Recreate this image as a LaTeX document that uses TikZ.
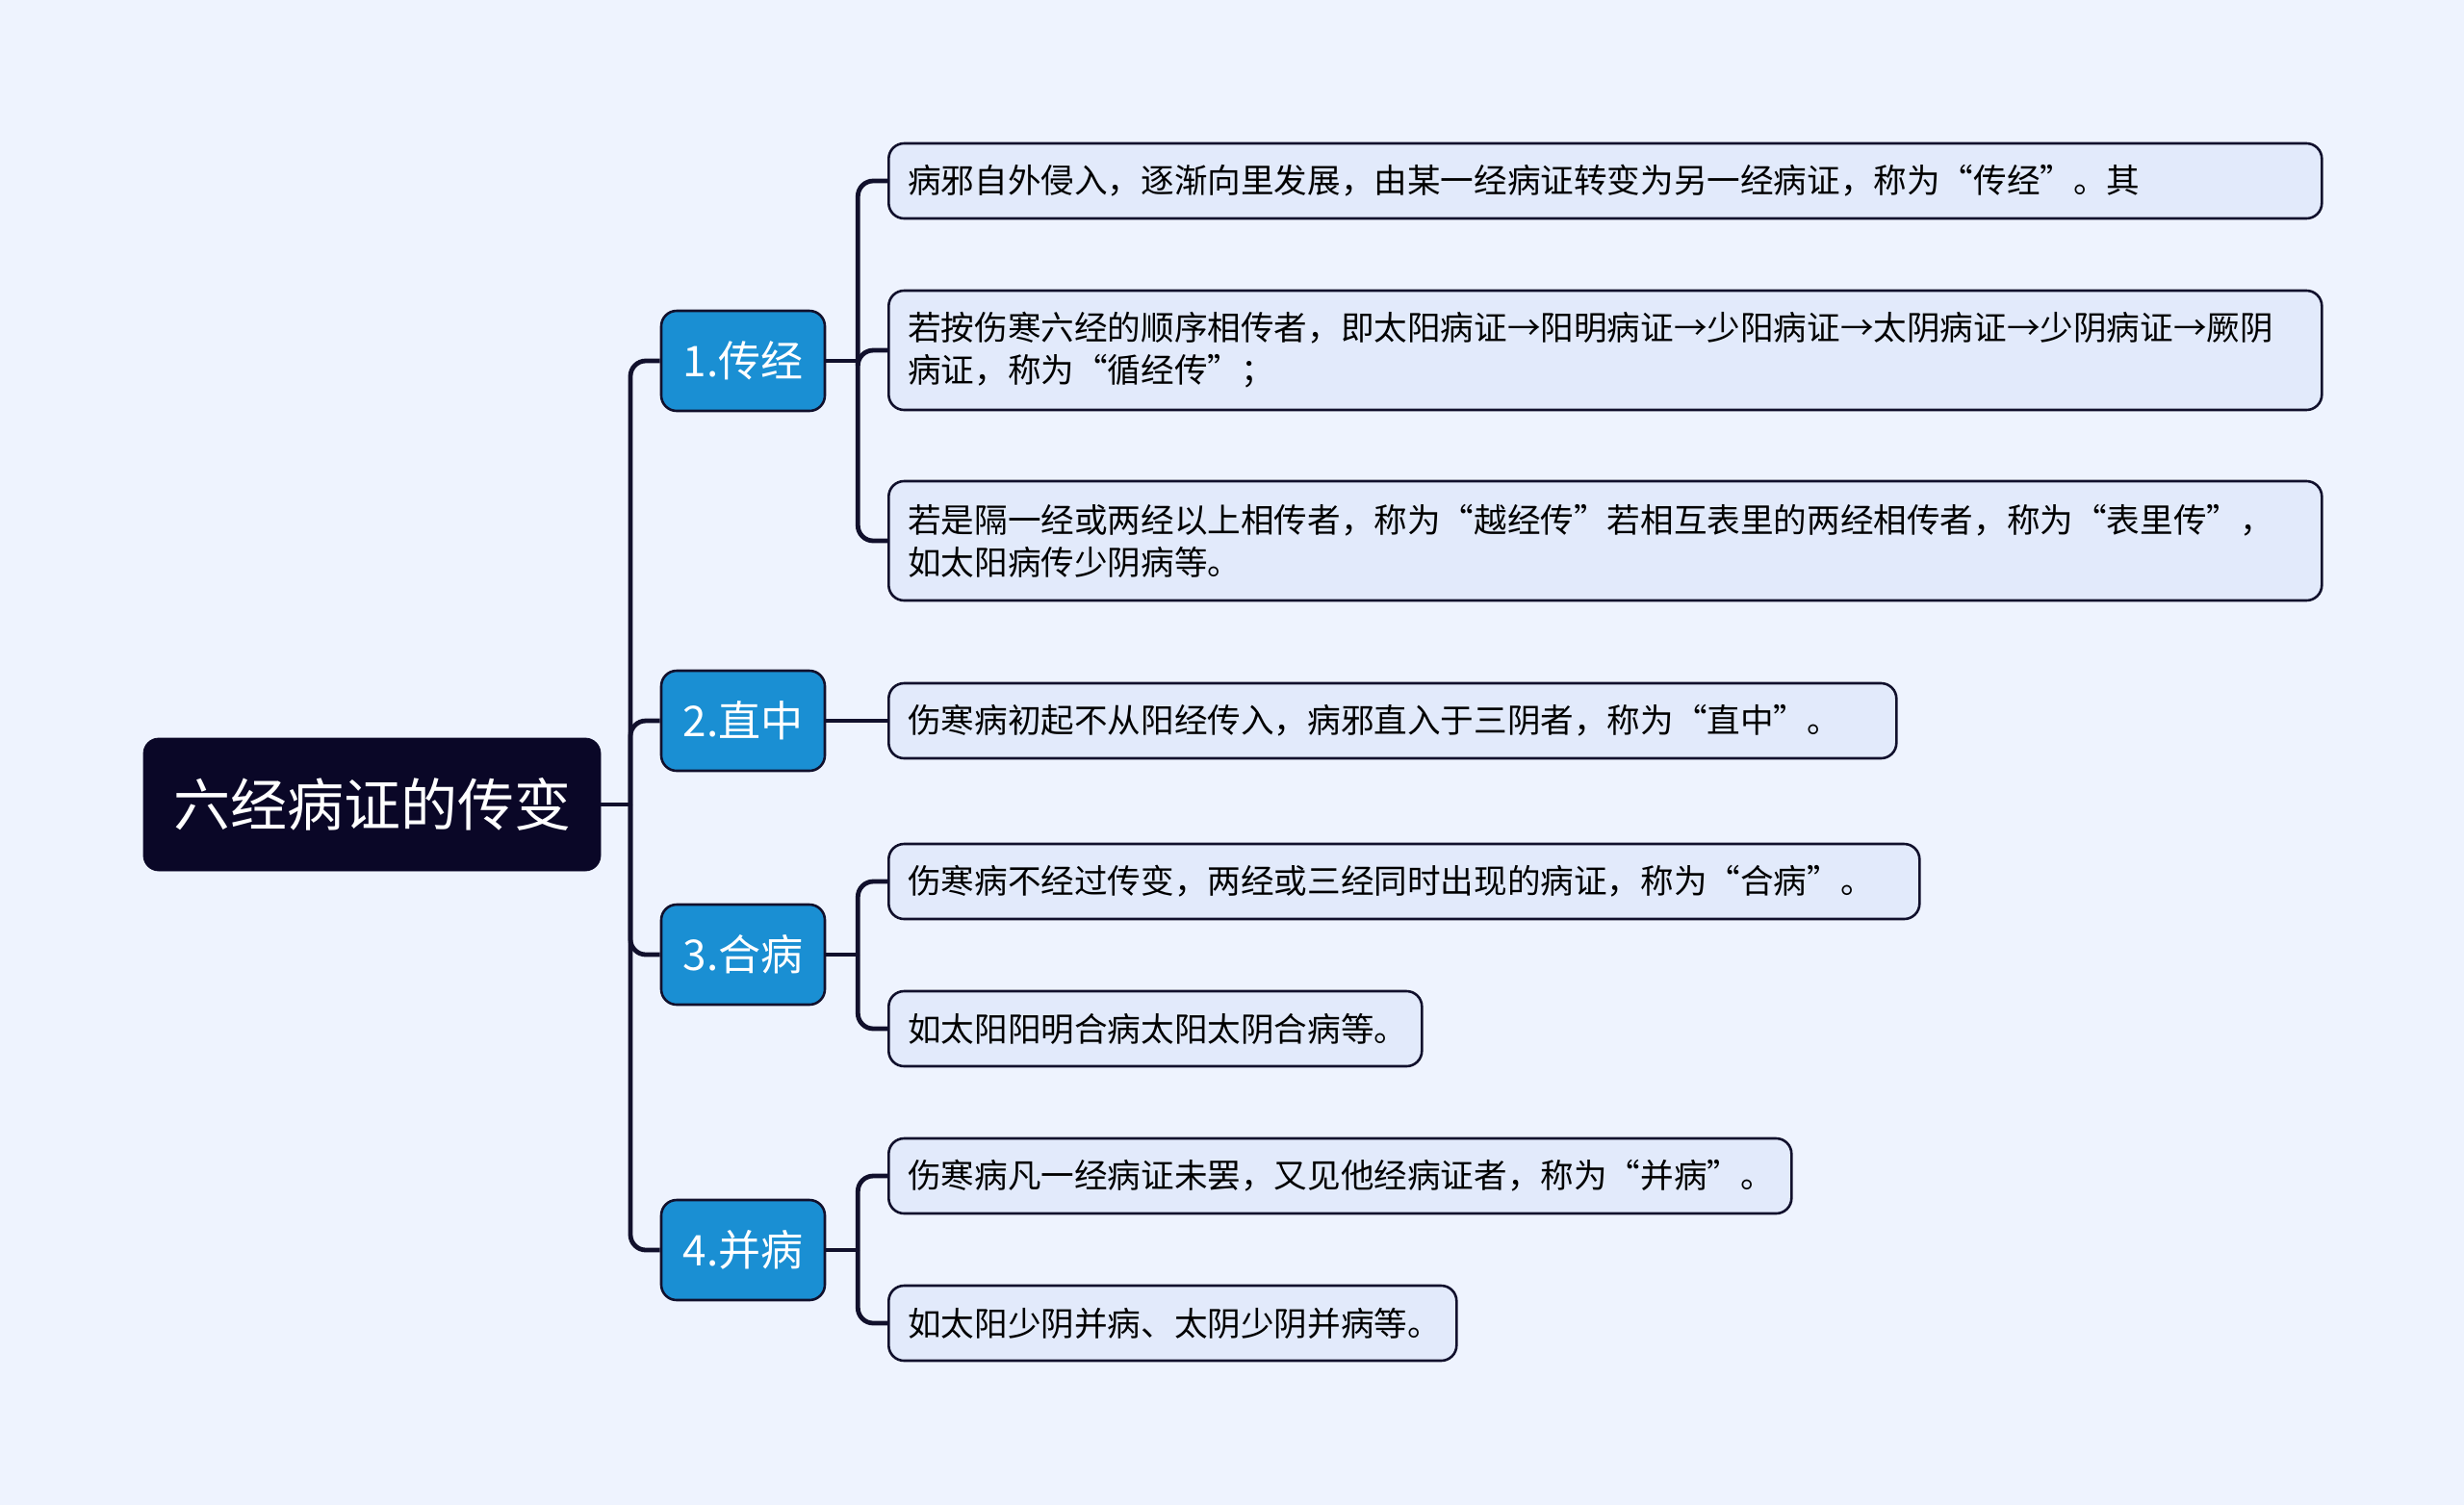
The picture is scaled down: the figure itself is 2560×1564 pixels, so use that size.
\documentclass[tikz,border=0pt]{standalone}
\usepackage{fontspec}
\newfontfamily\cjk{Noto Sans CJK SC}
\usepackage{xcolor}
\usetikzlibrary{positioning}
\definecolor{bgblue}{HTML}{EEF3FE}
\definecolor{linkdark}{HTML}{11102C}
\definecolor{rootdark}{HTML}{0A0727}
\definecolor{topicblue}{HTML}{1A8FD3}
\definecolor{leafblue}{HTML}{E2EAFB}

\begin{document}
\begin{tikzpicture}[x=0.5pt,y=-0.5pt,
  link/.style={draw=linkdark,line width=2.4pt,rounded corners=8pt},
  rootbox/.style={rectangle,draw=rootdark,fill=rootdark,rounded corners=8pt,minimum width=237.5pt,minimum height=69pt,text=white,font=\cjk\fontsize{29.5pt}{34pt}\selectfont},
  topicbox/.style={rectangle,draw=linkdark,line width=1.3pt,fill=topicblue,rounded corners=8pt,minimum width=85pt,minimum height=52pt,inner sep=0pt,text=white,font=\cjk\fontsize{22pt}{26pt}\selectfont},
  leafbox/.style={rectangle,draw=linkdark,line width=1.3pt,fill=leafblue,rounded corners=8pt,anchor=west,inner xsep=10pt,inner ysep=4pt,text width=#1,align=left,minimum height=39pt,font=\cjk\fontsize{17.3pt}{22pt}\selectfont}]
\useasboundingbox[fill=bgblue] (0,0) rectangle (2560,1564);

% root and topics
\node[rootbox] (root) at (386.5,836) {六经病证的传变};
\foreach \n/\y/\t in {1/375/1.传经,2/749/2.直中,3/992/3.合病,4/1299/4.并病} {
    \node[topicbox] (t\n) at (772,\y) {\t};
}

% leaves
\node[leafbox=724.5pt] (l1) at (922,188) {病邪自外侵入，逐渐向里发展，由某一经病证转变为另一经病证，称为“传经”。其};
\node[leafbox=724.5pt,minimum height=62pt] (l2) at (922,364) {若按伤寒六经的顺序相传者，即太阳病证→阳明病证→少阳病证→太阴病证→少阴病证→厥阴\\病证，称为“循经传”；};
\node[leafbox=724.5pt,minimum height=62pt] (l3) at (922,562) {若是隔一经或两经以上相传者，称为“越经传”若相互表里的两经相传者，称为“表里传”，\\如太阳病传少阴病等。};
\node[leafbox=503.5pt] (l4) at (922,749) {伤寒病初起不从阳经传入，病邪直入于三阴者，称为“直中”。};
\node[leafbox=515.5pt] (l5) at (922,916) {伤寒病不经过传变，两经或三经同时出现的病证，称为“合病”。};
\node[leafbox=257pt] (l6) at (922,1069) {如太阳阳明合病太阳太阴合病等。};
\node[leafbox=449pt] (l7) at (922,1222) {伤寒病凡一经病证未罢，又见他经病证者，称为“并病”。};
\node[leafbox=275pt] (l8) at (922,1375) {如太阳少阴并病、太阴少阴并病等。};

% connectors
\coordinate (hub) at (655,836);
\draw[link] (root.east) -- (hub);
\foreach \n in {1,2,3,4} {
    \draw[link] (hub) |- (t\n.west);
}
\foreach \n in {1,3,4} {
    \coordinate (hub\n) at ([xshift=16.5pt]t\n.east);
    \draw[link] (t\n.east) -- (hub\n);
}
\foreach \t/\l in {1/1,1/2,1/3,3/5,3/6,4/7,4/8} {
    \draw[link] (hub\t) |- (l\l.west);
}
\draw[link] (t2.east) -- (l4.west);
\end{tikzpicture}
\end{document}
